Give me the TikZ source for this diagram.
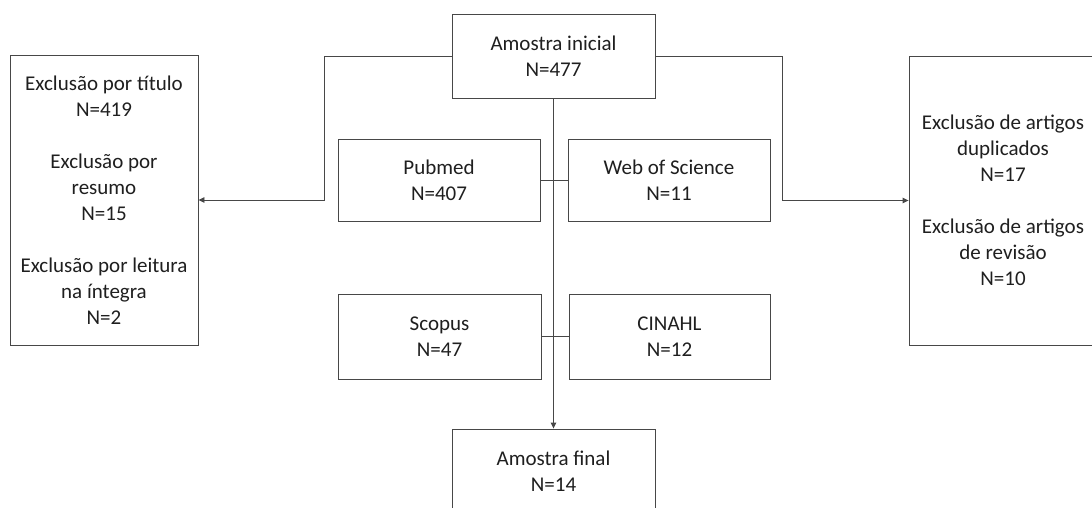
\documentclass[tikz,border=0pt]{standalone}
\usepackage{fontspec}
\setmainfont{Carlito}
\usetikzlibrary{arrows.meta}
\begin{document}
\begin{tikzpicture}[x=1pt,y=-1pt,
  box/.style={draw=black!72,line width=0.9pt,fill=white,align=center,inner sep=0pt,
    text=black!88,font=\fontsize{21}{26}\selectfont},
  link/.style={draw=black!72,line width=0.9pt},
  arr/.style={link,-{Triangle[length=6pt,width=5.5pt]}}]
\useasboundingbox (0,0) rectangle (1092,508);
\clip (0,0) rectangle (1092,508);
\fill[white] (0,0) rectangle (1092,508);
\node[box,minimum width=203pt,minimum height=84pt] (top) at (553.5,56) {Amostra inicial\\N=477};
\node[box,minimum width=188pt,minimum height=290pt] (left) at (104,200) {Exclusão por título\\N=419\\[26pt]Exclusão por\\resumo\\N=15\\[26pt]Exclusão por leitura\\na íntegra\\N=2};
\node[box,minimum width=188pt,minimum height=289pt] (right) at (1003,200.5) {Exclusão de artigos\\duplicados\\N=17\\[26pt]Exclusão de artigos\\de revisão\\N=10};
\node[box,minimum width=202pt,minimum height=82pt] (pub) at (439,180) {Pubmed\\N=407};
\node[box,minimum width=202pt,minimum height=82pt] (wos) at (669,180) {Web of Science\\N=11};
\node[box,minimum width=203pt,minimum height=85pt] (sco) at (439.5,336.5) {Scopus\\N=47};
\node[box,minimum width=201pt,minimum height=85pt] (cin) at (669.5,336.5) {CINAHL\\N=12};
\node[box,minimum width=203pt,minimum height=84pt] (final) at (553.5,471) {Amostra final\\N=14};
\draw[arr] (top.south) -- (final.north);
\draw[link] (pub.east) -- (wos.west);
\draw[link] (sco.east) -- (cin.west);
\draw[arr] (top.west) -- ++(-127,0) |- (left.east);
\draw[arr] (top.east) -- ++(127,0) |- (right.west);
\end{tikzpicture}
\end{document}
